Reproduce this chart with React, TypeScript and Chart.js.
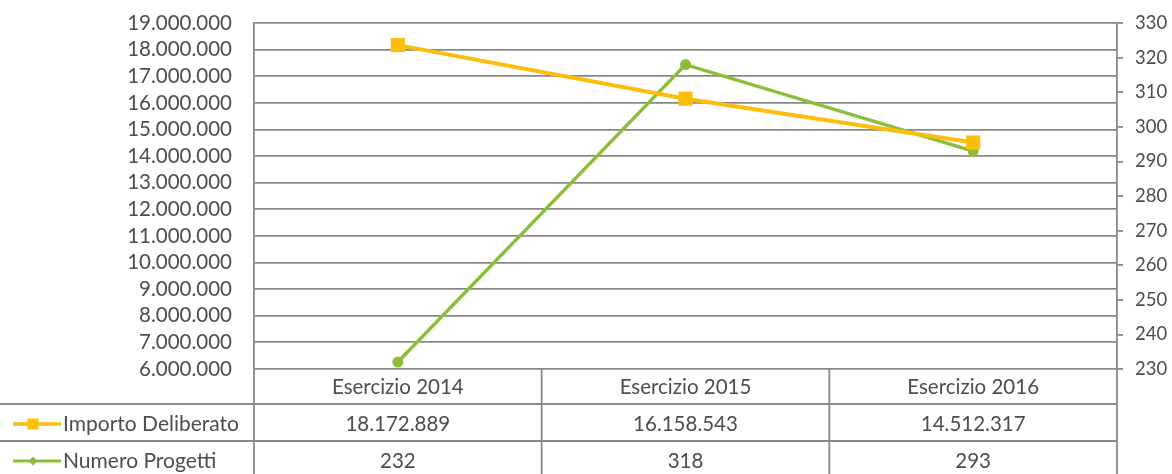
import React, { useEffect, useRef } from "react";
import { Chart, registerables } from "chart.js";

Chart.register(...registerables);

const categories = ["Esercizio 2014", "Esercizio 2015", "Esercizio 2016"];
const importoDeliberato = [18172889, 16158543, 14512317];
const numeroProgetti = [232, 318, 293];
const seriesNames = ["Importo Deliberato", "Numero Progetti"];
const leftAxis = { min: 6000000, max: 19000000, step: 1000000 };
const rightAxis = { min: 230, max: 330, step: 10 };

const ORANGE = "#FBBE0C";
const GREEN = "#8DBE3A";
const GRID = "#888888";
const TEXT = "#4d4d4d";
const FONT = "Lato";

function fmt(v: number): string {
  const s = Math.round(v).toString();
  return s.replace(/\B(?=(\d{3})+(?!\d))/g, ".");
}

const tablePlugin = {
  id: "dataTable",
  afterDraw(chart: any) {
    const ctx = chart.ctx as CanvasRenderingContext2D;
    const area = chart.chartArea;
    const xs = chart.scales.x;
    const n = categories.length;
    const colW = (area.right - area.left) / n;
    const top = area.bottom;
    const lines = [top + 35, top + 72];
    const centers = [top + 18, top + 55, top + 92];
    const H = chart.height;
    ctx.save();
    ctx.strokeStyle = GRID;
    ctx.lineWidth = 1.8;
    lines.forEach((y) => {
      ctx.beginPath();
      ctx.moveTo(0, y);
      ctx.lineTo(area.right, y);
      ctx.stroke();
    });
    for (let i = 0; i <= n; i++) {
      const x = area.left + i * colW;
      ctx.beginPath();
      ctx.moveTo(x, top);
      ctx.lineTo(x, H);
      ctx.stroke();
    }
    ctx.fillStyle = TEXT;
    ctx.font = `20.5px ${FONT}`;
    ctx.textAlign = "center";
    ctx.textBaseline = "middle";
    categories.forEach((c, i) => {
      const x = xs.getPixelForValue(i);
      ctx.fillText(c, x, centers[0]);
      ctx.fillText(fmt(importoDeliberato[i]), x, centers[1]);
      ctx.fillText(fmt(numeroProgetti[i]), x, centers[2]);
    });
    const keys = [
      { color: ORANGE, style: "rect", radius: 7, width: 3.5 },
      { color: GREEN, style: "rectRot", radius: 4.5, width: 3 },
    ];
    ctx.font = `21px ${FONT}`;
    keys.forEach((k, r) => {
      const y = centers[r + 1];
      ctx.strokeStyle = k.color;
      ctx.lineWidth = k.width;
      ctx.beginPath();
      ctx.moveTo(13, y);
      ctx.lineTo(61, y);
      ctx.stroke();
      ctx.fillStyle = k.color;
      ctx.beginPath();
      if (k.style === "rect") {
        ctx.rect(33 - 5.5, y - 5.5, 11, 11);
      } else {
        ctx.moveTo(33, y - k.radius);
        ctx.lineTo(33 + k.radius, y);
        ctx.lineTo(33, y + k.radius);
        ctx.lineTo(33 - k.radius, y);
        ctx.closePath();
      }
      ctx.fill();
      ctx.fillStyle = TEXT;
      ctx.textAlign = "left";
      ctx.fillText(seriesNames[r], 63, y);
    });
    ctx.restore();
  },
};

export default function App() {
  const ref = useRef<HTMLCanvasElement | null>(null);
  useEffect(() => {
    document.body.style.margin = "0";
    const canvas = ref.current!;
    const chart = new Chart(canvas, {
      type: "line",
      data: {
        labels: categories,
        datasets: [
          {
            label: seriesNames[0],
            data: importoDeliberato,
            yAxisID: "y",
            borderColor: ORANGE,
            backgroundColor: ORANGE,
            borderWidth: 4,
            pointStyle: "rect",
            pointRadius: 10,
            pointBorderWidth: 0,
          },
          {
            label: seriesNames[1],
            data: numeroProgetti,
            yAxisID: "y1",
            borderColor: GREEN,
            backgroundColor: GREEN,
            borderWidth: 3.5,
            pointStyle: "circle",
            pointRadius: 5.5,
            pointBorderWidth: 0,
          },
        ],
      },
      options: {
        responsive: false,
        animation: false,
        devicePixelRatio: 1,
        layout: { padding: { top: 23, bottom: 105, left: 0, right: 0 } },
        plugins: { legend: { display: false }, tooltip: { enabled: false } },
        scales: {
          x: {
            type: "category",
            offset: true,
            display: false,
          },
          y: {
            position: "left",
            min: leftAxis.min,
            max: leftAxis.max,
            afterFit: (s: any) => {
              s.width = 254;
            },
            ticks: {
              stepSize: leftAxis.step,
              autoSkip: false,
              color: TEXT,
              font: { family: FONT, size: 20.5 },
              padding: 2,
              callback: (v: any) => fmt(Number(v)),
            },
            grid: {
              color: GRID,
              lineWidth: 1.8,
              drawTicks: true,
              tickLength: 20,
              tickColor: "rgba(0,0,0,0)",
            },
            border: { display: true, color: GRID, width: 1.8 },
          },
          y1: {
            position: "right",
            min: rightAxis.min,
            max: rightAxis.max,
            afterFit: (s: any) => {
              s.width = 55;
            },
            ticks: {
              stepSize: rightAxis.step,
              autoSkip: false,
              color: TEXT,
              font: { family: FONT, size: 18.5 },
              padding: 12,
            },
            grid: {
              drawOnChartArea: false,
              color: GRID,
              lineWidth: 1.8,
              tickLength: 6,
            },
            border: { display: true, color: GRID, width: 1.8 },
          },
        },
      },
      plugins: [tablePlugin],
    });
    return () => chart.destroy();
  }, []);
  return <canvas ref={ref} width={1172} height={474} style={{ display: "block" }} />;
}
